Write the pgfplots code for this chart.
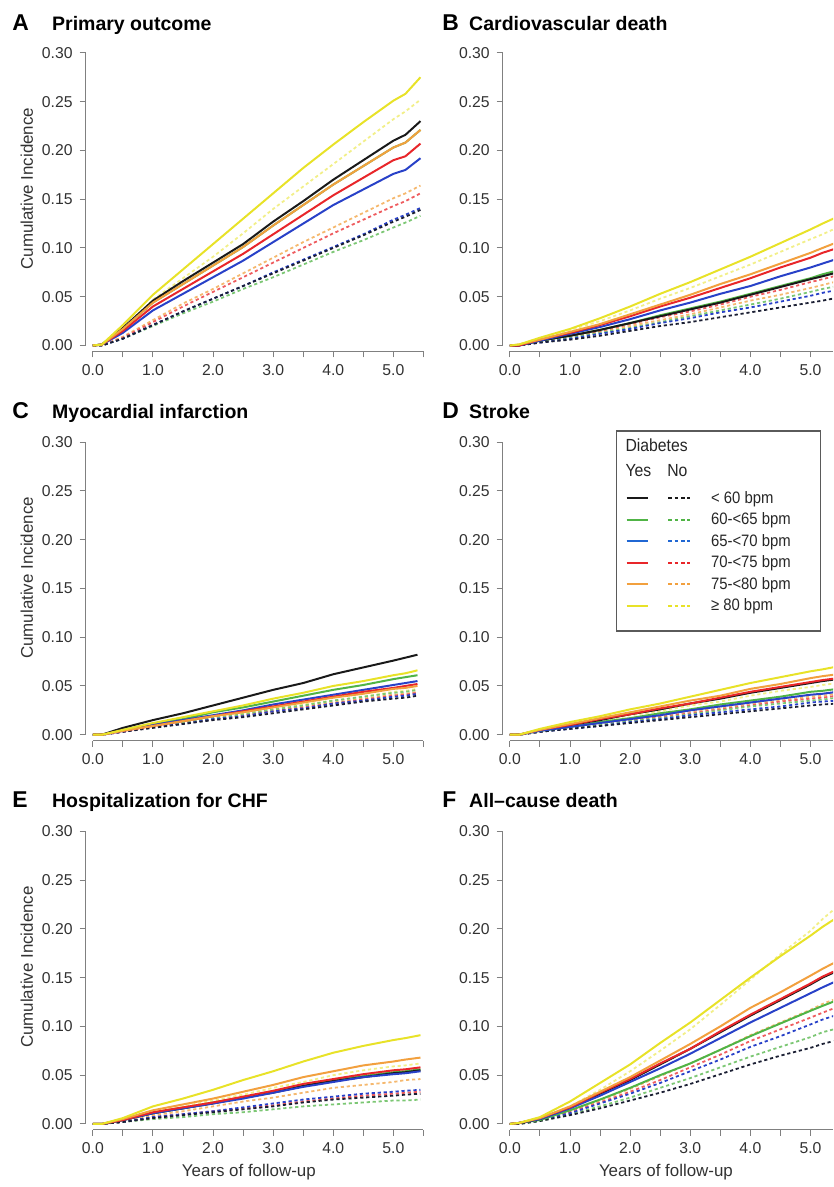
\documentclass[border=0pt]{standalone}
\usepackage{fontspec}
\setmainfont{Liberation Sans}
\newfontfamily\narrowfont[FakeStretch=0.9]{Liberation Sans}
\usepackage{pgfplots}
\pgfplotsset{compat=1.18}
\usepackage{pgfplotstable}

\definecolor{cblack}{RGB}{25,25,25}
\definecolor{cgreen}{RGB}{80,180,70}
\definecolor{cblue}{RGB}{40,65,200}
\definecolor{cred}{RGB}{232,38,42}
\definecolor{corange}{RGB}{242,160,62}
\definecolor{cyellow}{RGB}{232,226,40}
\definecolor{axgray}{RGB}{128,128,128}
\definecolor{txtgray}{RGB}{50,50,50}

% columns: b=<60, g=60-<65, u=65-<70, r=70-<75, o=75-<80, y=>=80 ; s=diabetes yes (solid), d=no (dashed)
\pgfplotstableread{
t    bs   gs   us   rs   os   ys   bd   gd   ud   rd   od   yd
0    0    0    0    0    0    0    0    0    0    0    0    0
0.15 .001 .001 .001 .001 .001 .001 0    0    0    0    0    .001
0.5  .018 .017 .013 .015 .017 .021 .007 .007 .007 .008 .009 .016
1    .046 .044 .036 .040 .044 .052 .021 .020 .021 .024 .026 .047
1.5  .066 .063 .053 .058 .063 .078 .035 .033 .035 .040 .043 .069
2    .085 .082 .070 .076 .082 .104 .048 .045 .048 .055 .058 .091
2.5  .104 .101 .087 .094 .101 .130 .061 .058 .061 .070 .074 .115
3    .127 .123 .106 .114 .123 .156 .074 .070 .075 .085 .090 .140
3.5  .148 .144 .125 .134 .144 .182 .087 .083 .088 .100 .106 .163
4    .170 .165 .144 .154 .165 .206 .100 .096 .101 .115 .121 .186
4.5  .190 .184 .160 .172 .184 .229 .113 .108 .114 .129 .136 .209
5    .210 .203 .176 .190 .203 .251 .127 .121 .129 .143 .151 .232
5.2  .216 .208 .180 .194 .208 .258 .132 .126 .134 .148 .156 .240
5.45 .230 .221 .192 .207 .221 .275 .139 .133 .141 .156 .164 .252
}\tabA

\pgfplotstableread{
t    bs   gs   us   rs   os   ys   bd   gd   ud   rd   od   yd
0    0    0    0    0    0    0    0    0    0    0    0    0
0.15 0    0    0    0    .001 .001 0    0    0    0    0    .001
0.5  .005 .005 .005 .006 .006 .008 .003 .004 .003 .004 .004 .007
1    .010 .010 .012 .013 .014 .017 .006 .008 .007 .009 .009 .016
1.5  .016 .016 .019 .021 .022 .028 .010 .013 .012 .015 .014 .025
2    .023 .023 .027 .030 .032 .040 .015 .018 .017 .022 .020 .036
2.5  .030 .031 .036 .040 .042 .053 .020 .024 .023 .029 .026 .048
3    .037 .038 .044 .049 .052 .065 .024 .030 .028 .035 .032 .059
3.5  .044 .045 .053 .059 .063 .078 .029 .036 .034 .042 .039 .071
4    .052 .053 .061 .069 .073 .091 .034 .042 .039 .050 .046 .083
4.5  .060 .061 .071 .080 .084 .105 .039 .048 .045 .057 .052 .096
5    .068 .069 .080 .090 .095 .119 .044 .055 .051 .065 .059 .109
5.2  .071 .073 .084 .095 .100 .125 .046 .058 .054 .068 .062 .114
5.45 .075 .077 .089 .100 .106 .132 .049 .061 .057 .072 .066 .121
}\tabB

\pgfplotstableread{
t    bs   gs   us   rs   os   ys   bd   gd   ud   rd   od   yd
0    0    0    0    0    0    0    0    0    0    0    0    0
0.15 0    0    0    0    0    0    0    0    0    0    0    0
0.5  .007 .005 .004 .004 .004 .005 .003 .004 .003 .003 .004 .004
1    .015 .011 .010 .009 .009 .012 .007 .008 .008 .008 .008 .008
1.5  .022 .016 .015 .014 .014 .018 .011 .012 .011 .012 .012 .013
2    .030 .023 .020 .019 .019 .024 .015 .017 .016 .016 .016 .017
2.5  .038 .028 .025 .024 .023 .030 .018 .021 .019 .020 .020 .022
3    .046 .034 .031 .029 .028 .037 .022 .026 .024 .024 .025 .026
3.5  .053 .040 .036 .034 .033 .043 .026 .030 .027 .028 .029 .031
4    .062 .046 .041 .039 .038 .050 .030 .035 .032 .032 .033 .035
4.5  .069 .051 .046 .044 .042 .055 .034 .039 .035 .036 .037 .039
5    .076 .057 .051 .048 .047 .061 .037 .043 .039 .040 .041 .044
5.2  .079 .059 .053 .050 .048 .063 .038 .044 .040 .041 .042 .045
5.4  .082 .061 .055 .052 .050 .066 .040 .046 .042 .043 .044 .047
}\tabC

\pgfplotstableread{
t    bs   gs   us   rs   os   ys   bd   gd   ud   rd   od   yd
0    0    0    0    0    0    0    0    0    0    0    0    0
0.15 0    0    0    0    0    0    0    0    0    0    0    0
0.5  .005 .004 .004 .005 .005 .006 .003 .003 .003 .003 .003 .004
1    .010 .008 .008 .010 .011 .013 .006 .007 .006 .007 .008 .010
1.5  .015 .013 .012 .016 .017 .019 .009 .010 .009 .011 .011 .014
2    .021 .017 .016 .021 .023 .026 .012 .014 .013 .015 .016 .020
2.5  .026 .022 .020 .027 .029 .032 .015 .017 .016 .018 .019 .024
3    .032 .026 .025 .032 .035 .039 .018 .021 .020 .022 .024 .030
3.5  .037 .031 .029 .038 .040 .046 .021 .025 .023 .026 .027 .034
4    .043 .035 .033 .044 .047 .053 .024 .029 .026 .030 .032 .040
4.5  .048 .039 .037 .049 .052 .059 .027 .032 .029 .034 .035 .045
5    .053 .044 .041 .054 .058 .065 .030 .035 .033 .037 .039 .049
5.2  .055 .045 .042 .056 .060 .067 .031 .036 .034 .038 .040 .051
5.45 .057 .047 .044 .058 .062 .070 .032 .038 .035 .040 .042 .053
}\tabD

\pgfplotstableread{
t    bs   gs   us   rs   os   ys   bd   gd   ud   rd   od   yd
0    0    0    0    0    0    0    0    0    0    0    0    0
0.15 0    0    0    0    0    0    0    0    0    0    0    0
0.5  .004 .004 .004 .004 .005 .006 .002 .002 .002 .002 .003 .004
1    .011 .011 .011 .012 .014 .018 .006 .005 .007 .007 .009 .012
1.5  .016 .016 .016 .017 .020 .026 .009 .007 .010 .010 .013 .018
2    .021 .022 .021 .022 .026 .035 .012 .010 .013 .013 .018 .024
2.5  .027 .027 .026 .028 .033 .045 .015 .012 .017 .016 .023 .030
3    .032 .033 .032 .034 .040 .054 .018 .015 .021 .019 .027 .037
3.5  .039 .039 .038 .041 .048 .064 .022 .018 .025 .023 .032 .043
4    .044 .045 .043 .046 .054 .073 .025 .020 .028 .026 .037 .050
4.5  .048 .049 .048 .051 .060 .080 .027 .022 .031 .029 .040 .055
5    .052 .053 .051 .055 .064 .086 .029 .024 .033 .031 .043 .059
5.2  .053 .054 .052 .056 .066 .088 .030 .024 .034 .032 .045 .060
5.45 .055 .056 .054 .058 .068 .091 .031 .025 .035 .033 .046 .062
}\tabE

\pgfplotstableread{
t    bs   gs   us   rs   os   ys   bd   gd   ud   rd   od   yd
0    0    0    0    0    0    0    0    0    0    0    0    0
0.15 .001 .001 .001 .001 .001 .001 0    0    0    0    0    0
0.5  .005 .004 .005 .006 .006 .007 .003 .003 .004 .004 .004 .005
1    .017 .014 .016 .017 .018 .023 .009 .010 .011 .012 .013 .018
1.5  .031 .025 .029 .032 .033 .042 .016 .018 .021 .022 .024 .035
2    .045 .037 .043 .046 .048 .061 .024 .027 .031 .033 .036 .054
2.5  .061 .050 .057 .062 .065 .083 .032 .037 .042 .045 .049 .075
3    .077 .062 .072 .077 .082 .104 .041 .047 .054 .058 .062 .097
3.5  .094 .076 .088 .095 .100 .127 .051 .058 .066 .071 .076 .122
4    .111 .090 .104 .112 .119 .150 .061 .069 .079 .085 .091 .148
4.5  .127 .103 .119 .128 .135 .172 .070 .079 .090 .097 .104 .174
5    .143 .116 .134 .144 .152 .193 .078 .089 .102 .109 .117 .198
5.2  .150 .121 .140 .151 .159 .202 .082 .094 .107 .114 .123 .210
5.45 .157 .127 .147 .158 .167 .212 .086 .098 .112 .120 .129 .223
}\tabF

\pgfplotsset{
  panel/.style={
    scale only axis, height=149.94pt,
    xmin=-0.12, ymin=-0.006, ymax=0.30,
    axis x line*=bottom, axis y line*=left,
    axis line style={draw=none},
    xtick={0,1,2,3,4,5}, xticklabels={0.0,1.0,2.0,3.0,4.0,5.0},
    minor xtick={0.5,1.5,2.5,3.5,4.5,5.5},
    ytick={0,0.05,0.1,0.15,0.2,0.25,0.3},
    yticklabels={0.00,0.05,0.10,0.15,0.20,0.25,0.30},
    tick align=outside, major tick length=3pt, minor tick length=3pt,
    tick style={color=axgray, line width=0.5pt},
    every tick label/.append style={font=\fontsize{7.9}{9}\selectfont, text=txtgray},
    clip mode=individual,
    every axis y label/.style={at={(axis description cs:-0.174,0.545)}, rotate=90, anchor=center,
      font=\fontsize{8.5}{10}\selectfont, text=txtgray},
    every axis x label/.style={at={(axis description cs:0.483,-0.143)}, anchor=center,
      font=\fontsize{8.5}{10}\selectfont, text=txtgray},
    after end axis/.code={
      \draw[axgray, line width=0.5pt] (axis cs:-0.12,0) -- (axis cs:-0.12,0.3);
      \draw[axgray, line width=0.5pt] (axis cs:0,-0.006) -- (rel axis cs:1,0);
    },
  },
  leftpanel/.style={panel, width=169.72pt, xmax=5.5},
  rightpanel/.style={panel, width=166pt, xmax=5.377},
  sol/.style={forget plot, line width=1pt, line join=round, #1},
  dsh/.style={forget plot, line width=0.9pt, dash pattern=on 1.6pt off 1.4pt, #1},
  legpair/.style={legend image code/.code={
      \draw[#1, line width=1pt] (0pt,0pt) -- (11pt,0pt);
      \draw[#1, line width=0.9pt, dash pattern=on 1.8pt off 1.4pt] (21pt,0pt) -- (32pt,0pt);}},
}

\newcommand{\curves}[1]{%
  \addplot[dsh=cyellow!55!white] table[x=t,y=yd]{#1};
  \addplot[dsh=corange!75!white] table[x=t,y=od]{#1};
  \addplot[dsh=cred!75!white] table[x=t,y=rd]{#1};
  \addplot[dsh=cgreen!75!white] table[x=t,y=gd]{#1};
  \addplot[dsh=cblue] table[x=t,y=ud]{#1};
  \addplot[dsh=cblack!85!cblue] table[x=t,y=bd]{#1};
  \addplot[sol=cgreen] table[x=t,y=gs]{#1};
  \addplot[sol=cblack] table[x=t,y=bs]{#1};
  \addplot[sol=cblue] table[x=t,y=us]{#1};
  \addplot[sol=cred] table[x=t,y=rs]{#1};
  \addplot[sol=corange] table[x=t,y=os]{#1};
  \addplot[sol=cyellow] table[x=t,y=ys]{#1};
}

\begin{document}
\begin{tikzpicture}
\path (0,0) rectangle (418.5pt,593.5pt);

% A
\begin{axis}[leftpanel, at={(43pt,417pt)}, anchor=south west, ylabel={Cumulative Incidence}]
\curves{\tabA}
\end{axis}
% B
\begin{axis}[rightpanel, at={(252.5pt,417pt)}, anchor=south west]
\curves{\tabB}
\end{axis}
% C
\begin{axis}[leftpanel, at={(43pt,221.5pt)}, anchor=south west, ylabel={Cumulative Incidence}]
\curves{\tabC}
\end{axis}
% D
\begin{axis}[rightpanel, at={(252.5pt,221.5pt)}, anchor=south west,
  legend cell align=left,
  legend style={at={(axis description cs:0.3705,0.8336)}, anchor=north west,
    draw=none, fill=none, inner sep=0pt, row sep=4.8pt, column sep=10pt,
    font=\narrowfont\fontsize{8.3}{9}\selectfont, text=black!85,
    nodes={inner sep=0pt, text height=5.5pt, text depth=0.5pt}}]
\curves{\tabD}
\addlegendimage{legpair=cblack}\addlegendentry{< 60 bpm}
\addlegendimage{legpair=cgreen}\addlegendentry{60-<65 bpm}
\addlegendimage{legpair=cblue!80!cyan}\addlegendentry{65-<70 bpm}
\addlegendimage{legpair=cred}\addlegendentry{70-<75 bpm}
\addlegendimage{legpair=corange}\addlegendentry{75-<80 bpm}
\addlegendimage{legpair=cyellow}\addlegendentry{≥ 80 bpm}
\end{axis}
% E
\begin{axis}[leftpanel, at={(43pt,26pt)}, anchor=south west,
  ylabel={Cumulative Incidence}, xlabel={Years of follow-up}]
\curves{\tabE}
\end{axis}
% F
\begin{axis}[rightpanel, at={(252.5pt,26pt)}, anchor=south west,
  xlabel={Years of follow-up},
  every axis x label/.style={at={(axis description cs:0.494,-0.143)}, anchor=center,
      font=\fontsize{8.5}{10}\selectfont, text=txtgray}]
\curves{\tabF}
\end{axis}

% legend frame and header
\draw[axgray!70!black, line width=0.6pt] (309.5pt,377pt) rectangle (412pt,276.5pt);
\begin{scope}[every node/.style={anchor=west, inner sep=0pt, text=black!85,
    font=\narrowfont\fontsize{8.8}{10}\selectfont}]
\node at (314pt,370pt) {Diabetes};
\node at (314pt,357pt) {Yes};
\node at (335pt,357pt) {No};
\end{scope}

% panel titles
\begin{scope}[every node/.style={anchor=base west, inner sep=0pt}]
\node[font=\bfseries\fontsize{11.5}{12}\selectfont] at (6pt,578.25pt) {A};
\node[font=\bfseries\fontsize{9.8}{12}\selectfont] at (26pt,578.25pt) {Primary outcome};
\node[font=\bfseries\fontsize{11.5}{12}\selectfont] at (222pt,578.25pt) {B};
\node[font=\bfseries\fontsize{9.8}{12}\selectfont] at (235.5pt,578.25pt) {Cardiovascular death};
\node[font=\bfseries\fontsize{11.5}{12}\selectfont] at (6pt,383.25pt) {C};
\node[font=\bfseries\fontsize{9.8}{12}\selectfont] at (26pt,383.25pt) {Myocardial infarction};
\node[font=\bfseries\fontsize{11.5}{12}\selectfont] at (222pt,383.25pt) {D};
\node[font=\bfseries\fontsize{9.8}{12}\selectfont] at (235.5pt,383.25pt) {Stroke};
\node[font=\bfseries\fontsize{11.5}{12}\selectfont] at (6pt,187.75pt) {E};
\node[font=\bfseries\fontsize{9.8}{12}\selectfont] at (26pt,187.75pt) {Hospitalization for CHF};
\node[font=\bfseries\fontsize{11.5}{12}\selectfont] at (222pt,187.75pt) {F};
\node[font=\bfseries\fontsize{9.8}{12}\selectfont] at (235.5pt,187.75pt) {All--cause death};
\end{scope}
\end{tikzpicture}
\end{document}
